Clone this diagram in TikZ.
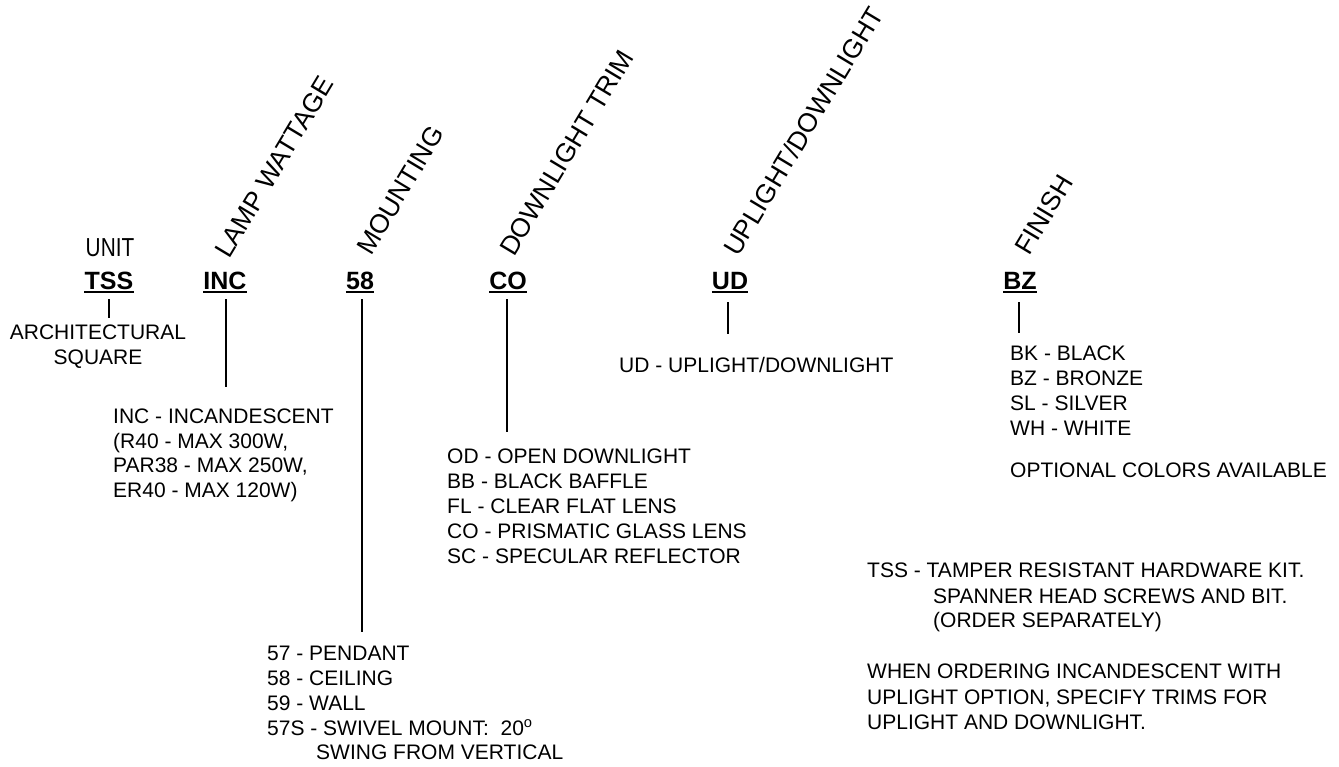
\documentclass[tikz,border=0pt]{standalone}
\usepackage{fontspec}
\usepackage{graphicx}
\setmainfont{Liberation Sans}
\begin{document}
\begin{tikzpicture}[x=1pt,y=-1pt,
  lbl/.style={font=\fontsize{25}{30}\selectfont\bfseries, inner sep=0pt, anchor=base},
  head/.style={font=\fontsize{26.5}{30}\selectfont, inner sep=0pt, anchor=base west, rotate=59},
  unithead/.style={font=\fontsize{26}{30}\selectfont, inner sep=0pt, anchor=base},
  txt/.style={font=\fontsize{21}{25}\selectfont, inner sep=0pt, anchor=base west},
  ctxt/.style={font=\fontsize{21}{25}\selectfont, inner sep=0pt, anchor=base},
  conn/.style={line width=2.2pt},
  ul/.style={line width=2pt}]
\useasboundingbox (0,0) rectangle (1339,767);

% code labels
\node[lbl] (tss) at (109,290) {TSS};
\node[lbl] (inc) at (225,290) {INC};
\node[lbl] (m58) at (360,290) {58};
\node[lbl] (co)  at (508,290) {CO};
\node[lbl] (ud)  at (730,290) {UD};
\node[lbl] (bz)  at (1020,290) {BZ};
\foreach \n in {tss,inc,m58,co,ud,bz}
  \draw[ul] ([yshift=-2.5pt]\n.base west) -- ([yshift=-2.5pt]\n.base east);

% headings
\node[unithead] (hunit) at (110,257) {\scalebox{0.8}[1]{UNIT}};
\node[head] (hlamp)  at (229,260) {LAMP WATTAGE};
\node[head] (hmount) at (371,257) {MOUNTING};
\node[head] (htrim)  at (514,258) {DOWNLIGHT TRIM};
\node[head] (hud)    at (738,258) {UPLIGHT/DOWNLIGHT};
\node[head] (hfin)   at (1029,257) {FINISH};

% connector ends
\coordinate (tssE) at (109,318);
\coordinate (incE) at (226,387);
\coordinate (m58E) at (362,632);
\coordinate (coE)  at (507,432);
\coordinate (udE)  at (728,334);
\coordinate (bzE)  at (1019,333);
\draw[conn] (tssE |- tss.south) ++(0,9) -- (tssE);
\draw[conn] (incE |- inc.south) ++(0,9) -- (incE);
\draw[conn] (m58E |- m58.south) ++(0,9) -- (m58E);
\draw[conn] (coE |- co.south) ++(0,9) -- (coE);
\draw[conn] (udE |- ud.south) ++(0,12) -- (udE);
\draw[conn] (bzE |- bz.south) ++(0,12) -- (bzE);

% unit description
\node[ctxt] (arch1) at (98,340) {ARCHITECTURAL};
\node[ctxt] (arch2) at (98,364) {SQUARE};

% lamp wattage
\node[txt] (inc1) at (113,423) {INC - INCANDESCENT};
\node[txt] (inc2) at (113,448) {(R40 - MAX 300W,};
\node[txt] (inc3) at (113,472) {PAR38 - MAX 250W,};
\node[txt] (inc4) at (113,497) {ER40 - MAX 120W)};

% mounting
\node[txt] (mt1) at (267,660) {57 - PENDANT};
\node[txt] (mt2) at (267,685) {58 - CEILING};
\node[txt] (mt3) at (267,710) {59 - WALL};
\node[txt] (mt4) at (267,735) {57S - SWIVEL MOUNT:~~20\textsuperscript{o}};
\node[txt] (mt5) at (316,759) {SWING FROM VERTICAL};

% downlight trim
\node[txt] (tr1) at (447,463) {OD - OPEN DOWNLIGHT};
\node[txt] (tr2) at (447,488) {BB - BLACK BAFFLE};
\node[txt] (tr3) at (447,513) {FL - CLEAR FLAT LENS};
\node[txt] (tr4) at (447,538) {CO - PRISMATIC GLASS LENS};
\node[txt] (tr5) at (447,563) {SC - SPECULAR REFLECTOR};

% uplight/downlight
\node[txt] (ud1) at (619,373) {UD - UPLIGHT/DOWNLIGHT};

% finish
\node[txt] (fn1) at (1010,360) {BK - BLACK};
\node[txt] (fn2) at (1010,385) {BZ - BRONZE};
\node[txt] (fn3) at (1010,410) {SL - SILVER};
\node[txt] (fn4) at (1010,435) {WH - WHITE};
\node[txt] (fn5) at (1010,477) {OPTIONAL COLORS AVAILABLE};

% notes
\node[txt] (nt1) at (867,577) {TSS - TAMPER RESISTANT HARDWARE KIT.};
\node[txt] (nt2) at (933,603) {SPANNER HEAD SCREWS AND BIT.};
\node[txt] (nt3) at (933,627) {(ORDER SEPARATELY)};
\node[txt] (nt4) at (867,678) {WHEN ORDERING INCANDESCENT WITH};
\node[txt] (nt5) at (867,704) {UPLIGHT OPTION, SPECIFY TRIMS FOR};
\node[txt] (nt6) at (867,729) {UPLIGHT AND DOWNLIGHT.};
\end{tikzpicture}
\end{document}
